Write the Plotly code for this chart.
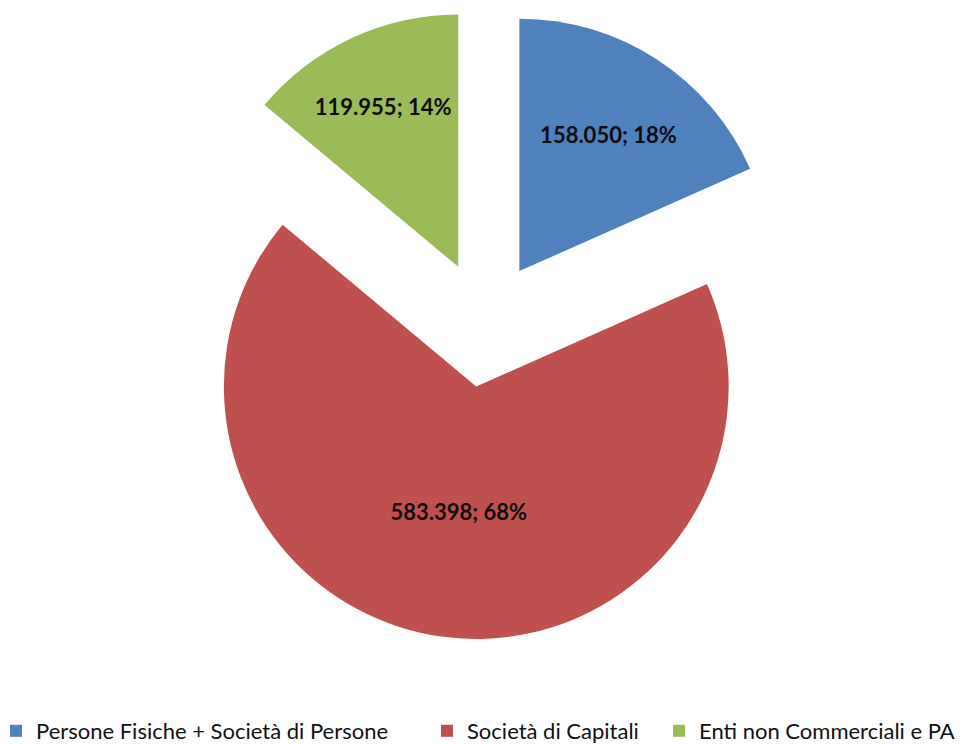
import plotly.graph_objects as go

labels = ["Persone Fisiche + Società di Persone", "Società di Capitali", "Enti non Commerciali e PA"]
values = [158050, 583398, 119955]
colors = ["#4F81BD", "#C0504D", "#9BBB59"]

W, H = 970, 744

fig = go.Figure()
fig.add_trace(go.Pie(
    labels=labels,
    values=values,
    sort=False,
    direction="clockwise",
    rotation=0,
    pull=[0.25, 0.25, 0.25],
    marker=dict(colors=colors, line=dict(width=0)),
    texttemplate="%{value:,}; %{percent:.0%}",
    textposition="inside",
    insidetextorientation="horizontal",
    textfont=dict(family="Lato", size=22, color="#0d0d0d", weight="bold"),
    domain=dict(x=[161.5 / W, 792.5 / W], y=[1 - 631.5 / H, 1 - 0.5 / H]),
    hoverinfo="label+value+percent",
    showlegend=False,
))

# legend entries (one legend per entry so each can sit where the reference has it)
legend_x_px = [-12, 419, 651]
legend_names = ["legend", "legend2", "legend3"]
for lab, col, lg in zip(labels, colors, legend_names):
    fig.add_trace(go.Scatter(
        x=[None], y=[None], mode="markers", name=lab,
        marker=dict(symbol="square", size=12, color=col),
        legend=lg, showlegend=True, hoverinfo="skip",
    ))

leg_common = dict(
    orientation="h", y=21 / H, xanchor="left", yanchor="middle",
    font=dict(family="Lato", size=22, color="#111111"),
    bgcolor="rgba(0,0,0,0)",
)
fig.update_layout(
    width=W, height=H,
    margin=dict(l=0, r=0, t=0, b=0, autoexpand=False),
    paper_bgcolor="white",
    plot_bgcolor="white",
    separators=",.",
    showlegend=True,
    xaxis=dict(visible=False),
    yaxis=dict(visible=False),
    legend=dict(x=legend_x_px[0] / W, **leg_common),
    legend2=dict(x=legend_x_px[1] / W, **leg_common),
    legend3=dict(x=legend_x_px[2] / W, **leg_common),
)

fig.write_html("out.html")
